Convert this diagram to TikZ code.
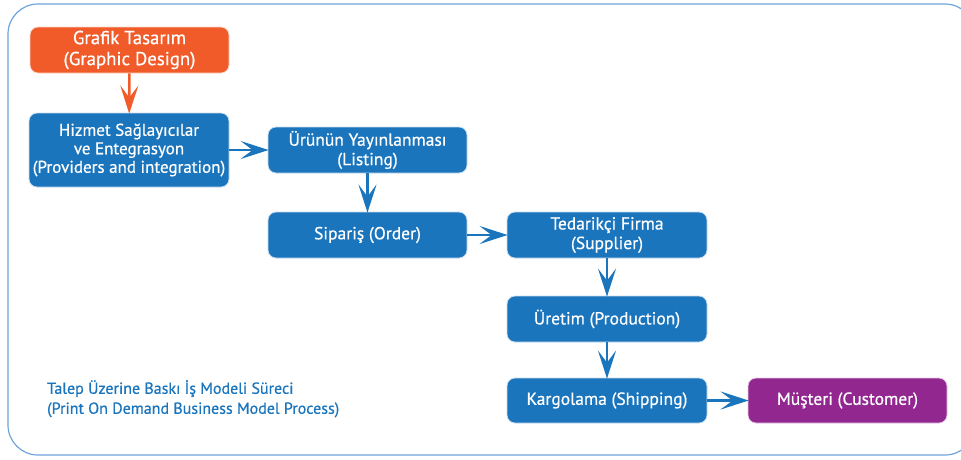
\documentclass[tikz,border=0pt]{standalone}
\usepackage{fontspec}
\setmainfont{PT Sans}[FakeBold=0.6]
\usetikzlibrary{arrows.meta}
\definecolor{pblue}{HTML}{1B75BC}
\definecolor{porange}{HTML}{F15A29}
\definecolor{ppurple}{HTML}{92278F}
\definecolor{pframe}{HTML}{6FA3DC}
\tikzset{
  box/.style={rounded corners=8pt, draw=white!75!pblue, line width=0.8pt, fill=pblue, text=white,
    align=center, inner sep=2pt, minimum width=199pt, minimum height=46pt,
    font=\fontsize{17.5}{19.5}\selectfont},
  flow/.style={pblue, line width=2.6pt, -{Stealth[length=28pt,width=18pt,inset=12pt]}, shorten >=-1pt},
}
\begin{document}
\begin{tikzpicture}[x=1pt,y=-1pt]
\useasboundingbox (0,0) rectangle (961,459);
\begin{scope}
\clip (0,0) rectangle (961,459);
\draw[pframe, line width=1.2pt, rounded corners=30pt] (8,4) rectangle (975,455);
\end{scope}
\node[box, fill=porange, draw=white!75!porange, font=\fontsize{18.8}{21}\selectfont] (gd) at (129.5,50) {Grafik Tasarım\\(Graphic Design)};
\node[box, minimum height=74pt, minimum width=200pt, font=\fontsize{17}{18.5}\selectfont] (hz) at (129,150) {Hizmet Sağlayıcılar\\ve Entegrasyon\\(Providers and integration)};
\node[box] (ur) at (367.5,150) {Ürünün Yayınlanması\\(Listing)};
\node[box] (sp) at (367.5,235) {Sipariş (Order)};
\node[box, minimum width=200pt] (td) at (607,235) {Tedarikçi Firma\\(Supplier)};
\node[box, minimum width=200pt] (pr) at (607,319) {Üretim (Production)};
\node[box, minimum width=200pt, minimum height=45pt] (kg) at (607,400.5) {Kargolama (Shipping)};
\node[box, fill=ppurple, draw=white!75!ppurple, minimum height=45pt] (cu) at (847.5,400.5) {Müşteri (Customer)};
\draw[flow, porange] (gd) -- (hz);
\draw[flow] (hz) -- (ur);
\draw[flow] (ur) -- (sp);
\draw[flow] (sp) -- (td);
\draw[flow] (td) -- (pr);
\draw[flow] (pr) -- (kg);
\draw[flow] (kg) -- (cu);
\node[anchor=north west, inner sep=0pt, align=left, text=pblue, font=\fontsize{16}{20}\selectfont] (cap) at (47,380) {Talep Üzerine Baskı İş Modeli Süreci\\(Print On Demand Business Model Process)};
\end{tikzpicture}
\end{document}
